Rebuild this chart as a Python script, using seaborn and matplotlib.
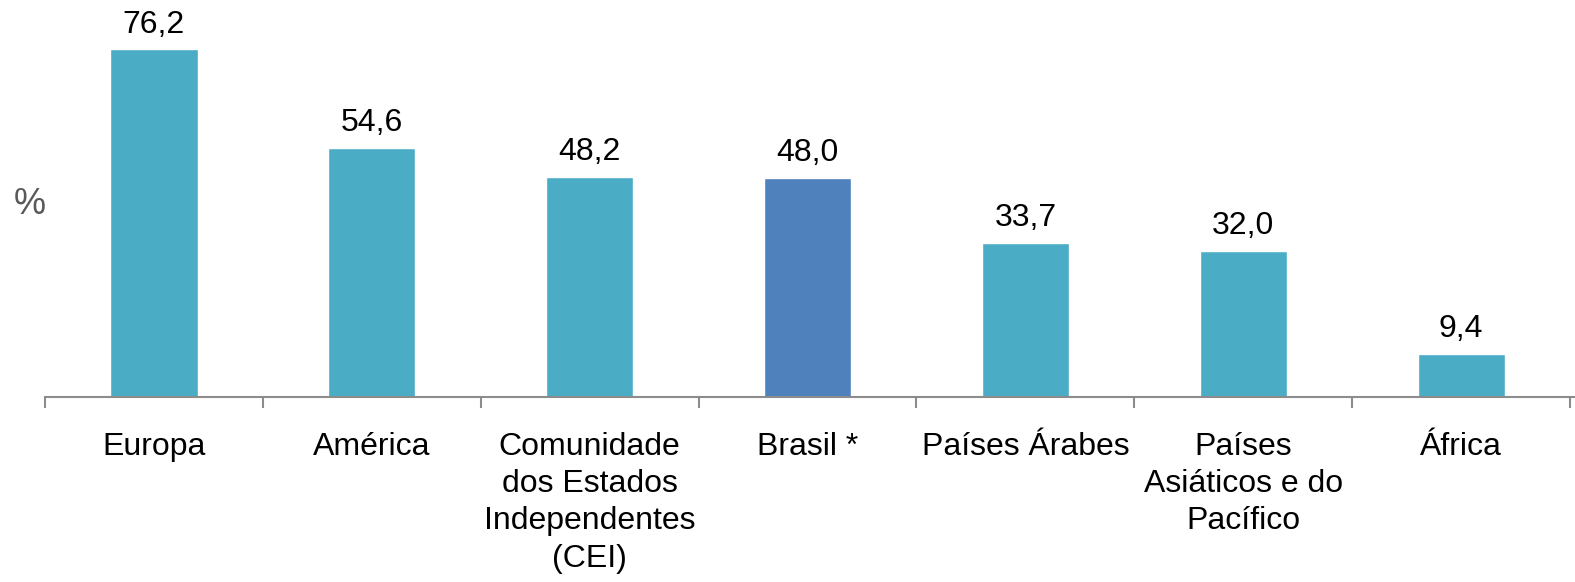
import numpy as np
import pandas as pd
import matplotlib.pyplot as plt
import seaborn as sns

# Data
regioes = ['Europa', 'América', 'Comunidade\ndos Estados\nIndependentes\n(CEI)', 'Brasil *',
           'Países Árabes', 'Países\nAsiáticos e do\nPacífico', 'África']
valores = [76.2, 54.6, 48.2, 48.0, 33.7, 32.0, 9.4]
cores = ['#4BACC6', '#4BACC6', '#4BACC6', '#4F81BD', '#4BACC6', '#4BACC6', '#4BACC6']

df = pd.DataFrame({'Regiao': regioes, 'Valor': valores})

sns.set_style('white')
plt.rcParams['font.family'] = ['Liberation Sans', 'DejaVu Sans']

fig = plt.figure(figsize=(15.75, 5.82), dpi=100)
ax = fig.add_axes([45 / 1575, 185 / 582, 1530 / 1575, 397 / 582])

sns.barplot(data=df, x='Regiao', y='Valor', hue='Regiao', palette=cores,
            legend=False, width=0.4, saturation=1, ax=ax)

ax.set_ylim(0, 87)
ax.set_xlim(-0.5, 6.5 + 5 / 218)

# value labels with decimal comma
for cont, v in zip(ax.containers, valores):
    ax.bar_label(cont, labels=[f'{v:.1f}'.replace('.', ',')], padding=7,
                 fontsize=23, color='black')

# spines and ticks
for s in ['top', 'right', 'left']:
    ax.spines[s].set_visible(False)
ax.spines['bottom'].set_color('#8C8C8C')
ax.spines['bottom'].set_linewidth(1.5)
ax.set_yticks([])
ax.set_xticks(np.arange(-0.5, 7, 1), minor=True)
ax.tick_params(axis='x', which='minor', length=8, width=1.5, color='#8C8C8C', bottom=True)
ax.tick_params(axis='x', which='major', length=0, pad=25, labelsize=23, labelcolor='black')
for lbl in ax.get_xticklabels():
    lbl.set_linespacing(1.32)
    lbl.set_verticalalignment('top')

ax.set_xlabel('')
ax.set_ylabel('')
fig.text(30 / 1575, 1 - 204 / 582, '%', fontsize=26, color='#595959', ha='center', va='center')

fig.savefig('out.png', dpi=100)
